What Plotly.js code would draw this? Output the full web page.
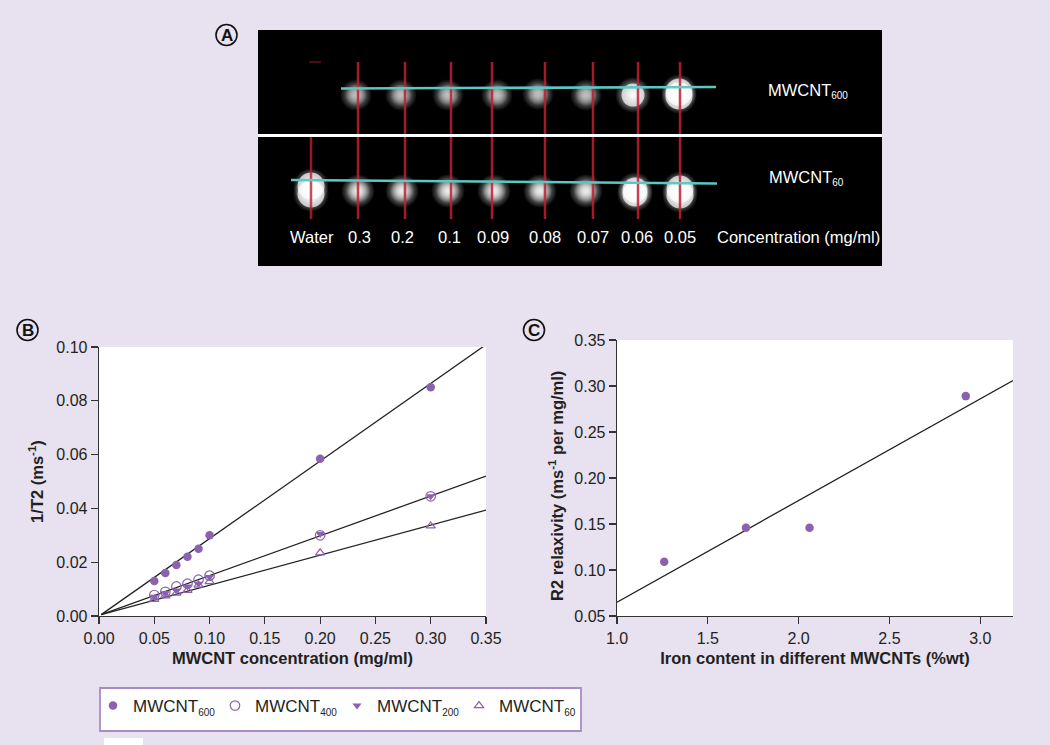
<!DOCTYPE html>
<html><head><meta charset="utf-8">
<script src="https://cdn.plot.ly/plotly-3.0.1.min.js"></script>
<style>html,body{margin:0;padding:0;background:#e7e1f0}</style></head>
<body><div id="chart" style="width:1050px;height:745px"></div>
<script>
// Panel B data
const concentration = [0.05,0.06,0.07,0.08,0.09,0.10,0.20,0.30];
const mwcnt600 = [0.013,0.016,0.019,0.022,0.025,0.030,0.0585,0.085];
const mwcnt400 = [0.0078,0.009,0.011,0.012,0.0135,0.015,0.030,0.0445];
const mwcnt200 = [0.0072,0.0085,0.0095,0.011,0.012,0.0145,0.0305,0.0445];
const mwcnt60  = [0.0062,0.0075,0.0085,0.0095,0.0115,0.0128,0.0235,0.0335];
const fitX = [0.002,0.348];
const fit600 = [0.0005,0.1003];
const fit400X = [0.002,0.35];
const fit400 = [0.0005,0.052];
const fit60 = [0.0005,0.0394];
// Panel C data
const ironContent = [1.26,1.71,2.06,2.92];
const relaxivity = [0.109,0.146,0.146,0.289];
const fitIronX = [1.0,3.18];
const fitIronY = [0.065,0.306];
// Panel A (phantom image, in image units)
const redX = [358,405,451,492,545,593,638,680];
const redTop = [62,62,62,62,62,62,62,62];
const redBottom = [219,219,219,219,219,219,219,219];
const waterX = [311,311];
const waterY = [137,219];
const waterDashX = [309,321];
const waterDashY = [62,62];
const teal600X = [341,716];
const teal600Y = [88.5,87];
const teal60X = [291,717];
const teal60Y = [180,183.5];
const sepX = [258,882];
const sepY = [135.5,135.5];
const blob600X = [356,401,448,497,538,586];
const blob600Y = [95,95,95,95,94,95];
const blob60X = [358,402,448,494,540,586];
const blob60Y = [191,191,191,191,191,191];
const brightX = [633,679,679,635,635,680,680,311,311];
const brightY = [95,92,96,190,194,189,195,186,194];
const brightCore = [23,27,27,25,25,27,27,27,27];
const concLabels = ['Water','0.3','0.2','0.1','0.09','0.08','0.07','0.06','0.05','Concentration (mg/ml)'];
const concLabelX = [312,359,402,449,493,545,593,637,680,798];
const concLabelY = 237;

const W=1050,H=745, purple='#8a62ad', ink='#231f20', font='Liberation Sans, Arial, sans-serif';
const dx=(a,b)=>[a/W,b/W], dy=(t,b)=>[1-b/H,1-t/H];
const sub=(s)=>'<sub><span style="font-size:10px">'+s+'</span></sub>';

function glow(x,y,size,rgb){return {x,y,xaxis:'x3',yaxis:'y3',mode:'markers',type:'scatter',showlegend:false,hoverinfo:'skip',
  marker:{size,color:'rgba('+rgb+',0)',line:{width:0},gradient:{type:'radial',color:'rgba('+rgb+',1)'}}};}
function seg(x,y,color,width,axis){return {x,y,xaxis:'x'+axis,yaxis:'y'+axis,mode:'lines',type:'scatter',showlegend:false,hoverinfo:'skip',line:{color,width}};}

const traces=[
  glow(blob600X,blob600Y,32,'190,190,190'),
  glow(blob600X,blob600Y,22,'190,190,190'),
  glow(blob60X,blob60Y,34,'225,225,225'),
  glow(blob60X,blob60Y,24,'235,235,235'),
  glow(brightX,brightY,36,'255,255,255'),
  {x:brightX,y:brightY,xaxis:'x3',yaxis:'y3',mode:'markers',type:'scatter',showlegend:false,hoverinfo:'skip',
   marker:{size:brightCore,color:'#fff',line:{width:0}}},
  seg(waterX,waterY,'rgba(190,30,50,0.8)',2.5,3),
  seg(waterDashX,waterDashY,'rgba(170,30,50,0.6)',1.5,3),
  ...redX.map((x,i)=>seg([x,x],[redTop[i],redBottom[i]],'rgba(190,30,50,0.85)',2.5,3)),
  seg(teal600X,teal600Y,'#5cc8c4',2.6,3),
  seg(teal60X,teal60Y,'#5cc8c4',2.6,3),
  seg(sepX,sepY,'#ffffff',3,3),
  seg(fitX,fit600,'#222',1.3,1),
  seg(fit400X,fit400,'#222',1.3,1),
  seg(fit400X,fit60,'#222',1.3,1),
  {x:concentration,y:mwcnt600,name:'MWCNT'+sub('600'),mode:'markers',type:'scatter',marker:{symbol:'circle',size:8.5,color:purple}},
  {x:concentration,y:mwcnt400,name:'MWCNT'+sub('400'),mode:'markers',type:'scatter',marker:{symbol:'circle-open',size:9.5,color:purple,line:{width:1.2,color:purple}}},
  {x:concentration,y:mwcnt200,name:'MWCNT'+sub('200'),mode:'markers',type:'scatter',marker:{symbol:'triangle-down',size:8,color:purple}},
  {x:concentration,y:mwcnt60,name:'MWCNT'+sub('60'),mode:'markers',type:'scatter',marker:{symbol:'triangle-up-open',size:8,color:purple,line:{width:1.2,color:purple}}},
  seg(fitIronX,fitIronY,'#222',1.3,2),
  {x:ironContent,y:relaxivity,xaxis:'x2',yaxis:'y2',mode:'markers',type:'scatter',showlegend:false,marker:{size:8.5,color:purple}}
];
const ax={showgrid:false,zeroline:false,showline:true,linecolor:'#333',linewidth:1.3,ticks:'outside',ticklen:7,tickwidth:1.2,tickcolor:'#333',
  tickfont:{family:font,size:16,color:ink},automargin:false};
const ttl=(t,s)=>({text:'<b>'+t+'</b>',font:{family:font,size:16.5,color:ink},standoff:s});
const letters=[['A',226.5,35],['B',27.5,330],['C',534,330]];
const ann=concLabels.map((t,i)=>({xref:'x3',yref:'y3',x:concLabelX[i],y:concLabelY,text:t,showarrow:false,font:{family:font,size:16.5,color:'#fff'}}));
ann.push({xref:'x3',yref:'y3',x:808,y:91,text:'MWCNT'+sub('600'),showarrow:false,font:{family:font,size:16.5,color:'#fff'}});
ann.push({xref:'x3',yref:'y3',x:806,y:178,text:'MWCNT'+sub('60'),showarrow:false,font:{family:font,size:16.5,color:'#fff'}});
letters.forEach(l=>ann.push({xref:'paper',yref:'paper',x:l[1]/W,y:1-l[2]/H,xanchor:'center',yanchor:'middle',text:'<b>'+l[0]+'</b>',showarrow:false,font:{family:font,size:17,color:'#111'}}));
ann.push({xref:'paper',yref:'paper',x:556/W,y:1-486/H,xanchor:'center',yanchor:'middle',textangle:-90,text:'<b>R2 relaxivity (ms<sup>-1</sup> per mg/ml)</b>',showarrow:false,font:{family:font,size:16.5,color:ink}});
const shapes=[
 {type:'rect',xref:'x3',yref:'y3',x0:258,x1:882,y0:30,y1:266,fillcolor:'#000',line:{width:0},layer:'below'},
 {type:'rect',xref:'paper',yref:'paper',x0:104/W,x1:143/W,y0:0,y1:1-738/H,fillcolor:'#fff',line:{width:0}},
 {type:'rect',xref:'paper',yref:'paper',x0:100/W,x1:581/W,y0:1-731/H,y1:1-688/H,fillcolor:'#fff',line:{color:'#a88cc8',width:1.8}}
];
letters.forEach(l=>shapes.push({type:'circle',xref:'paper',yref:'paper',x0:(l[1]-10.5)/W,x1:(l[1]+10.5)/W,y0:1-(l[2]+10.5)/H,y1:1-(l[2]-10.5)/H,line:{color:'#111',width:1.6}}));
const layout={width:W,height:H,margin:{l:0,r:0,t:0,b:0},paper_bgcolor:'#e7e1f0',plot_bgcolor:'#fff',showlegend:true,
 font:{family:font,color:ink},
 xaxis:{...ax,domain:dx(99,486),range:[0,0.35],tickvals:[0,.05,.1,.15,.2,.25,.3,.35],tickformat:'.2f',title:ttl('MWCNT concentration (mg/ml)',7),anchor:'y'},
 yaxis:{...ax,domain:dy(347,616),range:[0,0.10],tickvals:[0,.02,.04,.06,.08,.10],tickformat:'.2f',title:ttl('1/T2 (ms<sup>-1</sup>)',8),anchor:'x'},
 xaxis2:{...ax,domain:dx(617,1013),range:[1,3.18],tickvals:[1,1.5,2,2.5,3],tickformat:'.1f',title:ttl('Iron content in different MWCNTs (%wt)',7),anchor:'y2'},
 yaxis2:{...ax,domain:dy(340,616),range:[0.05,0.35],tickvals:[.05,.1,.15,.2,.25,.3,.35],tickformat:'.2f',anchor:'x2'},
 xaxis3:{domain:dx(258,882),range:[258,882],visible:false,anchor:'y3'},
 yaxis3:{domain:dy(30,266),range:[266,30],visible:false,anchor:'x3'},
 legend:{orientation:'h',x:93/W,xanchor:'left',y:1-688/H,yanchor:'top',bgcolor:'rgba(0,0,0,0)',borderwidth:0,itemwidth:30,font:{family:font,size:17,color:ink},entrywidth:77,entrywidthmode:'pixels',itemclick:false},
 annotations:ann,shapes
};
Plotly.newPlot('chart',traces,layout,{displayModeBar:false,staticPlot:true});
</script></body></html>
